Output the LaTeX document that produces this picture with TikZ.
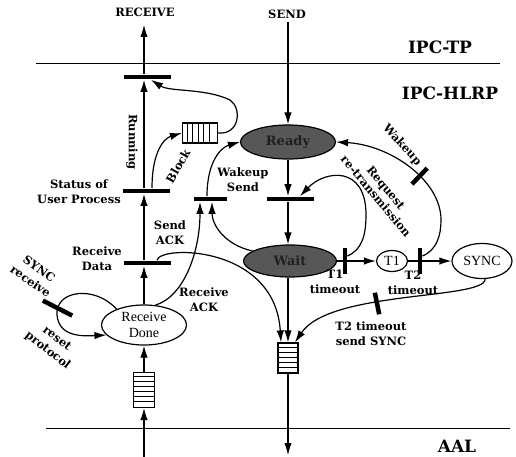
\documentclass[tikz,border=0pt]{standalone}
\usepackage{fontspec}
\setmainfont{DejaVu Serif}
\newfontfamily\tms{Liberation Serif}
\usetikzlibrary{arrows.meta,calc,shapes.geometric}
\begin{document}
\begin{tikzpicture}[x=1pt,y=-1pt,line width=1.2pt,
  arr/.style={-{Latex[length=12pt,width=7.5pt]}},
  tbar/.style={fill=black, inner sep=0, minimum width=47pt, minimum height=4.5pt},
  vbar/.style={fill=black, inner sep=0, minimum width=3.5pt, minimum height=26pt},
  lbl/.style={font=\bfseries\fontsize{11.5}{15}\selectfont, align=center, inner sep=0},
  big/.style={font=\bfseries\fontsize{17}{19}\selectfont, inner sep=0},
  place/.style={ellipse, draw, inner sep=0, font=\tms\fontsize{14}{16}\selectfont, align=center},
  dark/.style={ellipse, draw, fill=black!66, inner sep=0, font=\bfseries\fontsize{13}{14}\selectfont, text=black!88},
  queue/.style={draw, fill=white, inner sep=0},
  cut/.style={fill=black, inner sep=0, minimum width=4.5pt, minimum height=22pt, sloped},
  layer/.style={line width=0.9pt}
]
\useasboundingbox (0,0) rectangle (516,457);

% layer separators
\coordinate (tl) at (36,63); \coordinate (tr) at (500,63);
\coordinate (bl) at (46,428); \coordinate (br) at (510,428);
\draw[layer] (tl) -- (tr);
\draw[layer] (bl) -- (br);

\node[big] (ipctp) at (440,47) {IPC-TP};
\node[big] (ipchlrp) at (450,93) {IPC-HLRP};
\node[big] (aal) at (457,446) {AAL};
\node[lbl] (recv) at (145,12) {RECEIVE};
\node[lbl] (send) at (287,14) {SEND};

\coordinate (recvtip) at (144,25);
\coordinate (sendtop) at (288,22);
\coordinate (inbot) at (144,457);
\coordinate (outbot) at (288,455);

% transitions
\node[tbar] (bRun) at (147,77) {};
\node[tbar] (bStat) at (146,191) {};
\node[tbar] (bRD) at (147,263) {};
\node[tbar, minimum width=33pt] (bWS) at (210,199) {};
\node[tbar] (bMid) at (290,199) {};
\node[vbar] (bT1) at (345,261) {};
\node[vbar] (bT2) at (420,261) {};

% places
\node[dark, minimum width=95pt, minimum height=34pt] (ready) at (288,142) {Ready};
\node[dark, minimum width=93pt, minimum height=32pt] (wait) at (290,261) {Wait};
\node[place, minimum width=31pt, minimum height=21pt] (t1) at (392,261) {T1};
\node[place, minimum width=60pt, minimum height=35pt] (sync) at (482,261) {SYNC};
\node[place, minimum width=85pt, minimum height=40pt] (rd) at (144,325) {Receive\\Done};

% queues
\node[queue, minimum width=35pt, minimum height=20pt] (qH) at (200,133) {};
\foreach \k in {1,...,5} \draw[line width=0.9pt] ([xshift=\k*5.5pt]qH.north west) -- ([xshift=\k*5.5pt]qH.south west);
\node[queue, minimum width=21pt, minimum height=35pt] (qL) at (144,390) {};
\foreach \k in {1,...,6} \draw[line width=0.9pt] ([yshift=-\k*5pt]qL.north west) -- ([yshift=-\k*5pt]qL.north east);
\node[queue, minimum width=20pt, minimum height=30pt] (qR) at (288,358) {};
\foreach \k in {1,...,5} \draw[line width=0.9pt] ([yshift=-\k*5pt]qR.north west) -- ([yshift=-\k*5pt]qR.north east);

% receive column
\draw[arr] (inbot) -- (qL.south);
\draw[arr] (qL.north) -- (rd.south);
\draw[arr] (rd.north) -- (bRD.south -| rd.north);
\draw[arr] (bRD.north -| rd.north) -- (bStat.south -| rd.north);
\draw[arr] (bStat.north -| rd.north) -- (bRun.south -| rd.north);
\draw[arr] (bRun.north -| rd.north) -- (recvtip);

% send column
\draw[arr] (sendtop) -- (ready.north);
\draw[arr] (ready.south) -- (bMid.north -| ready.south);
\draw[arr] (bMid.south -| ready.south) -- (wait.north -| ready.south);
\draw[arr] (wait.south -| ready.south) -- (qR.north);
\draw[arr] (qR.south) -- (outbot);

% block / running
\draw[arr] ([xshift=6pt]bStat.north) .. controls (152,150) and (165,138) .. (qH.west);
\draw[arr] (qH.east) .. controls (240,135) and (242,108) .. (230,100) .. controls (205,88) and (170,92) .. ([xshift=4pt]bRun.south);

% wakeup send
\draw[arr] ([xshift=-3pt]bWS.north) .. controls (207,160) and (222,147) .. (ready.west);
\draw[arr] (rd.60) .. controls (185,296) and (200,250) .. ([xshift=-10pt]bWS.south);
\draw[arr] (wait.165) .. controls (225,245) and (212,225) .. ([xshift=2pt]bWS.south);

% receive data -> output queue
\draw[arr] ([xshift=10pt]bRD.north) .. controls (160,245) and (275,245) .. ([xshift=-7pt]qR.north);

% timers
\draw (wait.east) -- (bT1.west);
\draw[arr] (bT1.east) -- (t1.west);
\draw (t1.east) -- (bT2.west);
\draw[arr] (bT2.east) -- (sync.west);

\draw[arr] ([yshift=5pt]bT1.east) .. controls (362,250) and (366,235) .. (366,215) .. controls (366,165) and (325,170) .. ([xshift=10pt]bMid.north);
\draw[arr] ([yshift=5pt]bT2.east) .. controls (437,250) and (441,235) .. (441,220) .. controls (441,180) and (390,145) .. (ready.east) node[cut, pos=0.4] (cutw) {};
\draw[arr] (sync.-80) .. controls (485,300) and (330,290) .. ([xshift=7pt]qR.north) node[cut, pos=0.6] (cuts) {};

% sync receive loop
\draw[arr] (rd.150) .. controls (95,285) and (55,290) .. (57,315) node[fill=black, inner sep=0, minimum width=33pt, minimum height=4.5pt, rotate=-27, pos=0.9] (cutr) {} .. controls (59,338) and (85,336) .. (rd.195);

% labels
\node[lbl, rotate=-90] (running) at (132,142) {Running};
\node[lbl, rotate=60] (block) at (178,166) {Block};
\node[lbl] (statlbl) at (79,192) {Status of\\User Process};
\node[lbl] (sendack) at (170,233) {Send\\ACK};
\node[lbl] (rdata) at (97,259) {Receive\\Data};
\node[lbl] (wsend) at (243,180) {Wakeup\\Send};
\node[lbl] (rack) at (204,300) {Receive\\ACK};
\node[lbl, rotate=-35] (syncrecv) at (35,275) {SYNC\\receive};
\node[lbl, rotate=-38] (reset) at (52,345) {reset\\protocol};
\node[lbl, rotate=-48] (wakeup) at (402,145) {Wakeup};
\node[lbl, rotate=-50, font=\bfseries\fontsize{11.5}{13}\selectfont] (reqre) at (381,192) {Request\\re-transmission};
\node[lbl] (t1to) at (335,282) {T1\\timeout};
\node[lbl] (t2to) at (413,283) {T2\\timeout};
\node[lbl] (t2send) at (371,334) {T2 timeout\\send SYNC};
\end{tikzpicture}
\end{document}
